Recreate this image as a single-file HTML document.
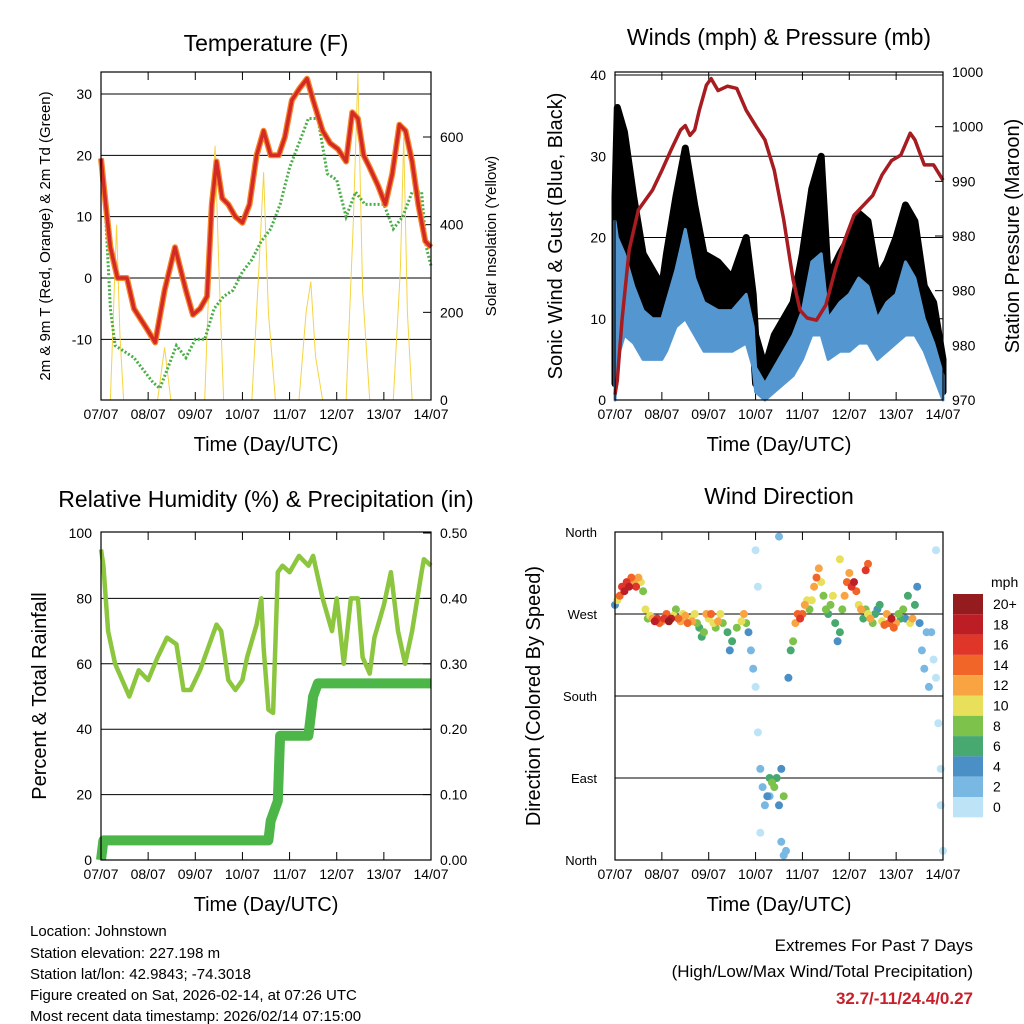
<!DOCTYPE html>
<html><head><meta charset="utf-8">
<style>
html,body{margin:0;padding:0;background:#fff;}
svg{display:block;font-family:"Liberation Sans",sans-serif;}
</style></head>
<body>
<svg id="c" width="1024" height="1024" viewBox="0 0 1024 1024" xmlns="http://www.w3.org/2000/svg">
<g id="root"></g>
<g font-size="15" fill="#000">
<text x="30" y="936">Location: Johnstown</text>
<text x="30" y="958">Station elevation: 227.198 m</text>
<text x="30" y="979">Station lat/lon: 42.9843; -74.3018</text>
<text x="30" y="1000">Figure created on Sat, 2026-02-14, at 07:26 UTC</text>
<text x="30" y="1021">Most recent data timestamp: 2026/02/14 07:15:00</text>
</g>
<g font-size="17" text-anchor="end">
<text x="973" y="951">Extremes For Past 7 Days</text>
<text x="973" y="977">(High/Low/Max Wind/Total Precipitation)</text>
<text x="973" y="1004" fill="#c8202a" font-weight="bold">32.7/-11/24.4/0.27</text>
</g>
</svg>
<script>
// ---- data ----
const xTickLabels=["07/07","08/07","09/07","10/07","11/07","12/07","13/07","14/07"];
const tDays=[0,0.1,0.2,0.35,0.55,0.7,0.95,1.15,1.35,1.57,1.8,1.95,2.1,2.25,2.35,2.45,2.57,2.7,2.85,3.0,3.15,3.3,3.45,3.6,3.77,3.9,4.05,4.22,4.37,4.5,4.7,4.86,5.03,5.2,5.33,5.45,5.57,5.7,5.88,6.03,6.18,6.33,6.46,6.6,6.73,6.88,7.0];
const tempF=[19.5,12,5,0,0,-5,-8,-10.5,-2,5,-2,-6,-5,-3,12,19,13,12,10,9,12,20,24,20,20,23,29,31,32.5,29,24,22,21,19,27,26,20,18,15,12,17,25,24,19,12,6,5];
const tdDays=[0,0.1,0.2,0.3,0.5,0.7,0.9,1.1,1.25,1.4,1.6,1.8,2.0,2.2,2.4,2.6,2.8,3.0,3.2,3.4,3.6,3.8,4.0,4.2,4.4,4.6,4.8,5.0,5.2,5.4,5.6,5.8,6.0,6.2,6.4,6.6,6.8,6.9,7.0];
const tdF=[19,10,-5,-11,-12,-13,-15,-17,-18,-15,-11,-13,-10,-10,-5,-3,-2,1,3,6,8,12,18,22,26,26,17,16,10,14,12,12,12,8,10,14,14,5,2];
const solarDays=[0.2,0.28,0.33,0.4,0.48,1.2,1.35,1.48,2.2,2.35,2.42,2.5,2.6,3.2,3.35,3.45,3.55,3.7,4.2,4.35,4.45,4.55,4.7,5.2,5.35,5.45,5.55,5.7,6.2,6.35,6.42,6.5,6.6];
const solarW=[0,250,400,150,0,0,120,0,0,450,580,300,0,0,300,520,200,0,0,200,270,100,0,0,400,745,250,0,0,300,600,200,0];
const wDays=[0,0.05,0.2,0.4,0.6,0.8,1.0,1.1,1.3,1.5,1.7,1.9,2.2,2.5,2.8,2.95,3.0,3.2,3.4,3.6,3.8,4.0,4.2,4.4,4.55,4.8,5.0,5.2,5.4,5.6,5.8,6.0,6.2,6.4,6.6,6.8,7.0];
const gustLo=[2,10,18,15,10,8,7,10,15,20,15,10,8,8,10,7,2,1,2,3,5,8,15,14,8,10,9,12,12,8,9,12,15,14,10,5,1];
const gustHi=[25,36,33,25,18,16,14,18,25,31,24,18,17,15,20,13,8,4,8,10,12,18,26,30,15,18,20,23,22,15,17,20,24,22,14,12,5];
const windLo=[0,5,8,7,5,5,5,6,9,10,8,6,6,6,7,4,1,0,1,2,3,5,8,8,5,6,6,7,7,5,6,7,8,8,6,3,0];
const windHi=[22,20,18,14,11,10,10,12,16,21,15,12,11,11,13,9,4,2,4,6,8,11,17,18,10,12,13,15,14,10,12,13,17,15,10,7,3];
const pDays=[0,0.05,0.15,0.3,0.5,0.8,1.0,1.2,1.4,1.5,1.6,1.7,1.8,1.95,2.05,2.2,2.4,2.6,2.8,3.0,3.2,3.4,3.6,3.8,3.95,4.1,4.3,4.5,4.7,4.9,5.1,5.3,5.5,5.7,5.9,6.1,6.3,6.4,6.6,6.8,7.0];
const pressMb=[970.5,971.8,977.3,983.7,987.4,989.2,991.0,992.9,994.7,995.1,994.2,994.7,996.5,998.8,999.4,998.3,998.7,998.5,996.5,995.1,993.8,991.0,986.5,981.0,978.2,977.5,977.3,978.7,981.9,984.6,986.9,987.8,988.7,990.6,991.9,992.4,994.4,993.8,991.5,991.5,990.1];
const pTickLabels=["970","980","980","980","990","1000","1000"];
const rhDays=[0,0.05,0.15,0.3,0.45,0.6,0.8,1.0,1.2,1.4,1.6,1.75,1.9,2.1,2.3,2.45,2.55,2.7,2.85,3.0,3.1,3.3,3.4,3.45,3.55,3.65,3.75,3.85,4.0,4.2,4.4,4.5,4.7,4.9,5.0,5.15,5.3,5.45,5.55,5.7,5.8,6.0,6.15,6.3,6.45,6.6,6.8,6.85,7.0];
const rhPct=[95,90,70,60,55,50,58,55,62,68,66,52,52,58,66,72,70,55,52,55,62,72,80,65,46,45,88,90,88,93,90,93,80,70,80,60,80,80,62,57,68,78,88,70,60,70,88,92,90];
const prDays=[0,0.05,3.55,3.6,3.75,3.8,4.4,4.5,4.6,7.0];
const prIn=[0,0.03,0.03,0.06,0.09,0.19,0.19,0.25,0.27,0.27];
const dirDays=[0,0.05,0.1,0.15,0.2,0.25,0.3,0.35,0.4,0.45,0.5,0.55,0.6,0.65,0.7,0.75,0.8,0.85,0.9,0.95,1.0,1.05,1.1,1.15,1.2,1.25,1.3,1.35,1.4,1.45,1.5,1.55,1.6,1.65,1.7,1.75,1.8,1.85,1.9,1.95,2.0,2.05,2.1,2.15,2.2,2.25,2.3,2.4,2.45,2.5,2.6,2.7,2.75,2.8,2.85,2.9,2.95,3.0,3.05,3.1,3.15,3.2,3.25,3.3,3.35,3.4,3.45,3.5,3.55,3.6,3.65,3.7,3.75,3.8,3.85,3.9,3.95,4.0,4.05,4.1,4.15,4.2,4.25,4.3,4.35,4.4,4.45,4.5,4.55,4.6,4.65,4.7,4.75,4.8,4.85,4.9,4.95,5.0,5.05,5.1,5.15,5.2,5.25,5.3,5.35,5.4,5.45,5.5,5.55,5.6,5.65,5.7,5.75,5.8,5.85,5.9,5.95,6.0,6.05,6.1,6.15,6.2,6.25,6.3,6.35,6.4,6.45,6.5,6.55,6.6,6.65,6.7,6.75,6.8,6.85,6.9,6.95,7.0,5.35,5.4,4.8,3.0,3.05,3.5,3.55,3.6,6.85,6.95,3.1,3.3];
const dirDeg=[280,285,290,300,295,305,300,310,305,300,310,305,295,275,265,268,265,262,265,260,262,265,270,262,265,268,275,265,262,270,268,260,265,262,270,260,255,245,250,270,265,270,260,255,262,270,260,250,230,240,255,262,270,260,250,230,210,190,140,100,80,60,70,90,85,80,90,60,20,5,10,200,230,240,260,270,265,270,280,285,275,285,300,310,320,305,290,275,270,280,290,260,240,250,275,290,305,315,300,305,295,280,275,265,275,270,265,260,270,275,280,262,258,270,260,265,255,260,270,265,275,265,290,260,265,280,300,260,230,210,250,190,250,220,200,150,60,10,318,325,330,340,300,355,100,70,340,100,30,70];
const dirMph=[4,10,14,16,18,16,18,14,12,16,12,10,8,10,8,10,12,18,16,14,12,16,14,20,18,10,8,14,12,10,12,14,10,12,10,8,6,6,8,12,10,14,10,8,12,10,8,6,5,6,8,10,12,8,4,2,2,1,1,2,2,2,4,6,8,8,6,4,3,3,2,4,6,8,12,14,16,14,12,10,8,10,12,14,12,10,8,8,6,8,10,6,5,6,8,12,14,12,16,18,14,10,12,6,8,10,12,8,6,4,6,10,14,12,14,18,14,12,8,6,8,4,6,10,12,6,4,4,3,2,3,2,2,1,1,1,1,1,16,14,10,1,1,2,4,8,1,1,1,2];
const cbLabels=["20+","18","16","14","12","10","8","6","4","2","0"];
const cbColors=["#941b1e","#bd1e26","#e03529","#f26529","#f9a443","#e8e05a","#7dc24b","#48a970","#4a8fc6","#7ab8e4","#bde3f7"];

// ---- helpers ----
const NS="http://www.w3.org/2000/svg";
const root=document.getElementById('root');
function mk(tag,attrs,parent){const e=document.createElementNS(NS,tag);for(const k in attrs)e.setAttribute(k,attrs[k]);(parent||root).appendChild(e);return e;}
function txt(x,y,s,size,anchor,parent,rot){const t=mk('text',{x:x,y:y,'font-size':size,'text-anchor':anchor||'middle'},parent);if(rot)t.setAttribute('transform','rotate(-90 '+x+' '+y+')');t.textContent=s;return t;}
function lin(d0,d1,p0,p1){return v=>p0+(v-d0)/(d1-d0)*(p1-p0);}
function poly(xs,ys,fx,fy){return xs.map((d,i)=>fx(d).toFixed(1)+','+fy(ys[i]).toFixed(1)).join(' ');}

function panel(name,L,T,R,B,title,titleY){
  const g=mk('g',{});
  
  
  const t=txt((L+R)/2,titleY,title,23,'middle',g);
  
  
  const fx=lin(0,7,L,R);
  const xa=mk('g',{},g);
  
  
  xTickLabels.forEach((s,i)=>{const x=fx(i);
    mk('line',{x1:x,y1:B,x2:x,y2:B-8,stroke:'#000','stroke-width':1},xa);
    mk('line',{x1:x,y1:T,x2:x,y2:T+8,stroke:'#000','stroke-width':1},xa);
    txt(x,B+19,s,14,'middle',xa);});
  const xt=txt((L+R)/2,B+51,'Time (Day/UTC)',20,'middle',g);
  
  
  return {g,fx};
}
function frame(g,L,T,R,B){mk('rect',{x:L,y:T,width:R-L,height:B-T,fill:'none',stroke:'#000','stroke-width':1.2},g);}
function grid(g,L,R,y){mk('line',{x1:L,x2:R,y1:y,y2:y,stroke:'#000','stroke-width':1},g);}

// ===== Panel 1: Temperature =====
(function(){
  const L=101,T=72,R=431,B=400;
  const {g,fx}=panel('temperature-panel',L,T,R,B,'Temperature (F)',51);
  const fy=lin(0,30,278,94);
  const fs=lin(0,600,400,137);
  const ya=mk('g',{},g);
  
  
  [-10,0,10,20,30].forEach(v=>{grid(g,L,R,fy(v));txt(L-9,fy(v)+5,String(v),14,'end',ya);});
  [0,200,400,600].forEach(v=>{const y=fs(v);mk('line',{x1:R,x2:R-8,y1:y,y2:y,stroke:'#000'},ya);txt(R+9,y+5,String(v),14,'start',ya);});
  const sol=mk('polyline',{points:poly(solarDays,solarW,fx,fs),fill:'none',stroke:'#f5d442','stroke-width':1},g);
  
  
  const td=mk('polyline',{points:poly(tdDays,tdF,fx,fy),fill:'none',stroke:'#4aae48','stroke-width':3,'stroke-dasharray':'2 2'},g);
  
  
  const t9=mk('polyline',{points:poly(tDays,tempF,fx,fy),fill:'none',stroke:'#f5862a','stroke-width':6,'stroke-linejoin':'round'},g);
  
  
  const t2=mk('polyline',{points:poly(tDays,tempF,fx,fy),fill:'none',stroke:'#d42a26','stroke-width':3.5,'stroke-linejoin':'round'},g);
  
  
  frame(g,L,T,R,B);
  const yl=txt(50,236,'2m & 9m T (Red, Orange) & 2m Td (Green)',15,'middle',g,true);
  
  
  const yr=txt(496,236,'Solar Insolation (Yellow)',15,'middle',g,true);
  
  
})();

// ===== Panel 2: Winds =====
(function(){
  const L=615,T=72,R=943,B=400;
  const {g,fx}=panel('winds-panel',L,T,R,B,'Winds (mph) & Pressure (mb)',45);
  const fy=lin(0,40,400,75);
  const fp=lin(970,1000,400,72);
  const ya=mk('g',{},g);
  
  
  [0,10,20,30,40].forEach(v=>{if(v>0)grid(g,L,R,fy(v));txt(L-9,fy(v)+5,String(v),14,'end',ya);});
  pTickLabels.forEach((s,i)=>{const y=fp(970+i*5);mk('line',{x1:R,x2:R-8,y1:y,y2:y,stroke:'#000'},ya);txt(R+9,y+5,s,14,'start',ya);});
  const gx=gustLo.map(v=>v);
  const gp=poly(wDays,gustHi,fx,fy)+' '+poly(wDays.slice().reverse(),gustLo.slice().reverse(),fx,fy);
  const gu=mk('polygon',{points:gp,fill:'#000',stroke:'#000','stroke-width':7,'stroke-linejoin':'round'},g);
  
  
  const wp=poly(wDays,windHi,fx,fy)+' '+poly(wDays.slice().reverse(),windLo.slice().reverse(),fx,fy);
  const wi=mk('polygon',{points:wp,fill:'#5497d0',stroke:'#5497d0','stroke-width':3,'stroke-linejoin':'round'},g);
  
  
  const pr=mk('polyline',{points:poly(pDays,pressMb,fx,fp),fill:'none',stroke:'#a61c20','stroke-width':3.5,'stroke-linejoin':'round'},g);
  
  
  frame(g,L,T,R,B);
  grid(g,L,R,fy(40));
  const yl=txt(562,236,'Sonic Wind & Gust (Blue, Black)',20,'middle',g,true);
  
  
  const yr=txt(1019,236,'Station Pressure (Maroon)',20,'middle',g,true);
  
  
})();

// ===== Panel 3: RH & Precip =====
(function(){
  const L=101,T=532,R=431,B=860;
  const {g,fx}=panel('humidity-panel',L,T,R,B,'Relative Humidity (%) & Precipitation (in)',507);
  const fy=lin(0,100,860,533);
  const fr=lin(0,0.5,860,533);
  const ya=mk('g',{},g);
  
  
  [0,20,40,60,80,100].forEach(v=>{if(v>0&&v<100)grid(g,L,R,fy(v));txt(L-9,fy(v)+5,String(v),14,'end',ya);});
  [0,0.1,0.2,0.3,0.4,0.5].forEach(v=>{const y=fr(v);mk('line',{x1:R,x2:R-8,y1:y,y2:y,stroke:'#000'},ya);txt(R+9,y+5,v.toFixed(2),14,'start',ya);});
  const rh=mk('polyline',{points:poly(rhDays,rhPct,fx,fy),fill:'none',stroke:'#8cc63f','stroke-width':4.5,'stroke-linejoin':'round'},g);
  
  
  const pp=mk('polyline',{points:poly(prDays,prIn,fx,fr),fill:'none',stroke:'#4cb648','stroke-width':10,'stroke-linejoin':'round'},g);
  
  
  frame(g,L,T,R,B);
  const yl=txt(46,696,'Percent & Total Rainfall',20,'middle',g,true);
  
  
})();

// ===== Panel 4: Wind direction =====
(function(){
  const L=615,T=532,R=943,B=860;
  const {g,fx}=panel('wind-direction-panel',L,T,R,B,'Wind Direction',504);
  const fy=lin(0,360,860,532);
  const ya=mk('g',{},g);
  
  
  ['North','East','South','West','North'].forEach((s,i)=>{const y=fy(i*90);if(i>0&&i<4)grid(g,L,R,y);txt(L-18,y+5,s,13,'end',ya);});
  function col(v){let i=Math.min(10,Math.floor(v/2));return cbColors[10-i];}
  const pts=mk('g',{},g);
  
  
  const order=dirDays.map((d,i)=>i).sort((a,b)=>dirMph[a]-dirMph[b]);
  order.forEach(i=>{
    const c=mk('circle',{cx:fx(dirDays[i]).toFixed(1),cy:fy(dirDeg[i]).toFixed(1),r:4,fill:col(dirMph[i])},pts);
    
    
  });
  frame(g,L,T,R,B);
  const yl=txt(540,696,'Direction (Colored By Speed)',20,'middle',g,true);
  
  
  const cb=mk('g',{},g);
  
  
  txt(991,587,'mph',14,'start',cb);
  cbLabels.forEach((s,i)=>{const y=594+i*20.3;
    const r=mk('rect',{x:953,y:y,width:30,height:20.3,fill:cbColors[i]},cb);
    
    
    txt(993,y+15,s,14,'start',cb);});
})();
</script>
</body></html>
